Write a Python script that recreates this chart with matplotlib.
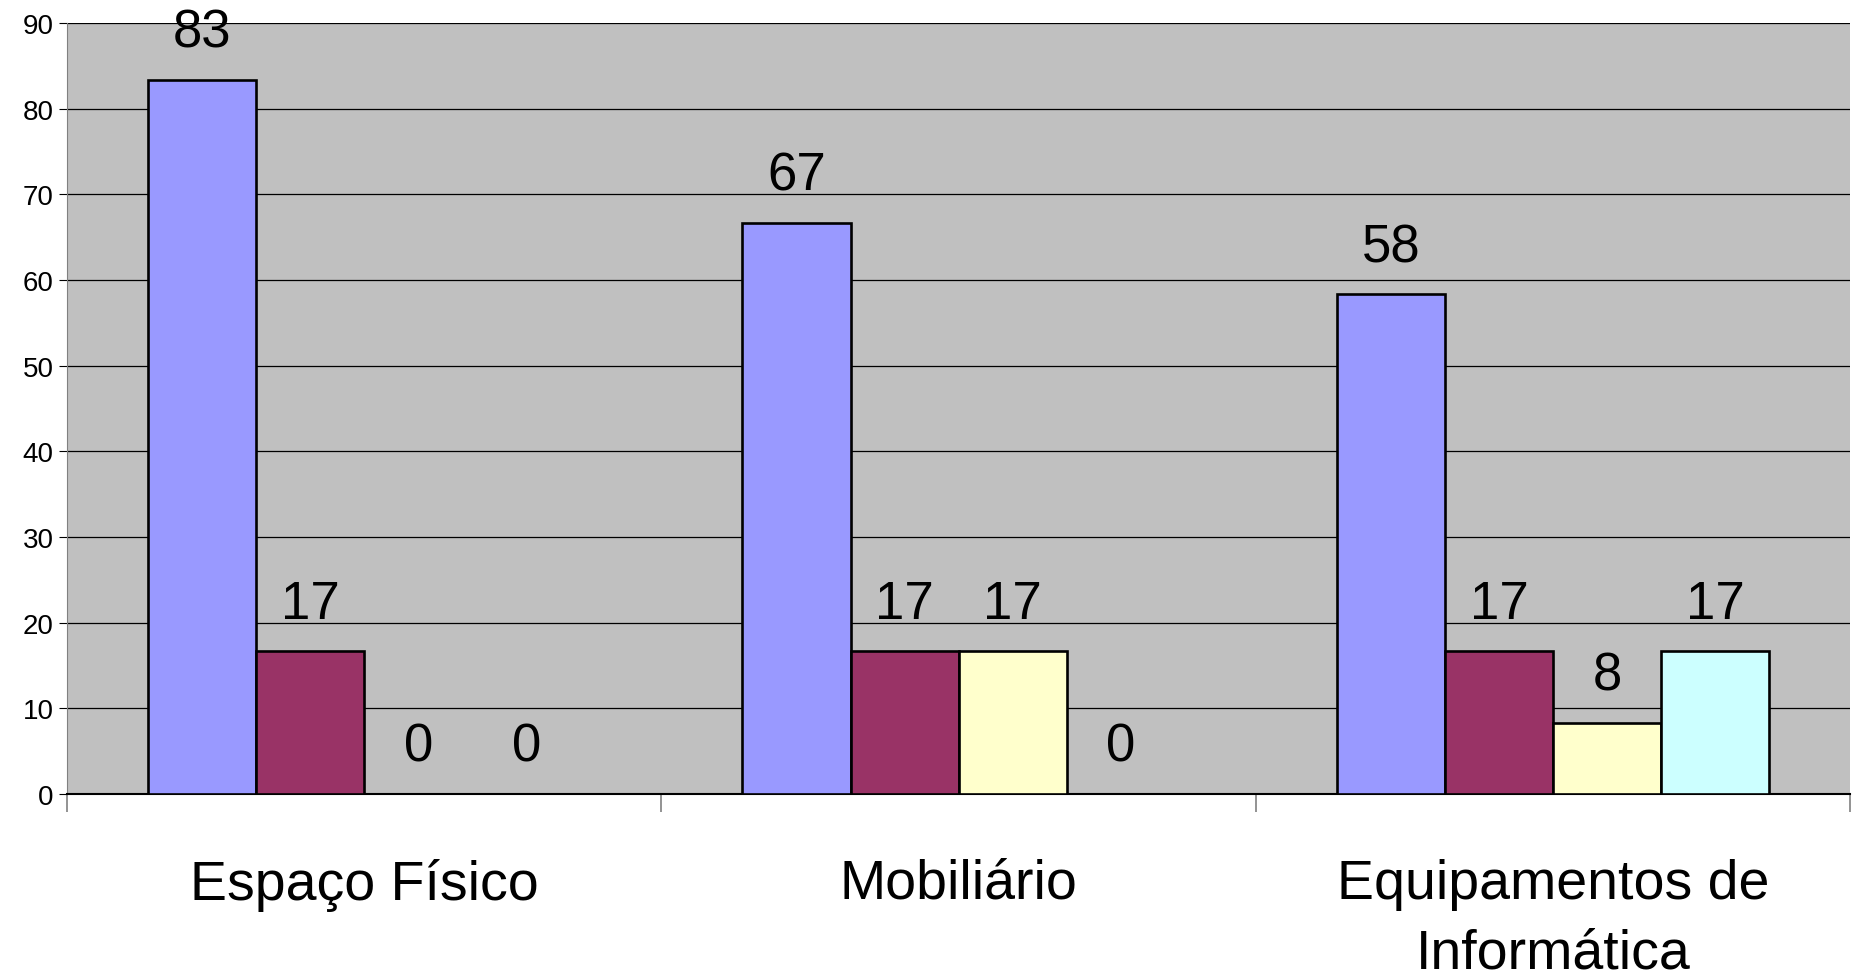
import numpy as np
import matplotlib.pyplot as plt

plt.rcParams['font.family'] = ['Liberation Sans', 'DejaVu Sans']

# Data
categories = ['Espaço Físico', 'Mobiliário', 'Equipamentos de\nInformática']
serie_1 = [83.33, 66.67, 58.33]
serie_2 = [16.67, 16.67, 16.67]
serie_3 = [0, 16.67, 8.33]
serie_4 = [0, 0, 16.67]
series = [serie_1, serie_2, serie_3, serie_4]
colors = ['#9999FF', '#993366', '#FFFFCC', '#CCFFFF']

fig = plt.figure(figsize=(18.52, 9.78), dpi=100)
ax = fig.add_axes([0.0362, 0.1871, 0.9628, 0.7884])
ax.set_facecolor('#C0C0C0')

x = np.arange(len(categories))
width = 1 / 5.5  # excel style, gap width 150%

for i, (vals, col) in enumerate(zip(series, colors)):
    pos = x - 1.5 * width + i * width
    bars = ax.bar(pos, vals, width, color=col, edgecolor='black', linewidth=1.9, zorder=3)
    for b, v in zip(bars, vals):
        ax.annotate(f'{v:.0f}', (b.get_x() + b.get_width() / 2, v),
                    xytext=(0, 16), textcoords='offset points',
                    ha='center', va='bottom', fontsize=38, zorder=4,
                    annotation_clip=False)

ax.set_xlim(-0.5, len(categories) - 0.5)
ax.set_ylim(0, 90)
ax.set_yticks(range(0, 91, 10))
ax.tick_params(axis='y', labelsize=20, length=6, color='black', direction='out')
ax.yaxis.grid(True, color='black', linewidth=0.9, zorder=1)

# category labels centred, ticks at boundaries
ax.set_xticks(x)
ax.set_xticklabels(categories, fontsize=40, linespacing=1.45)
ax.tick_params(axis='x', length=0, pad=46)
ax.set_xticks(np.arange(-0.5, len(categories)), minor=True)
ax.tick_params(axis='x', which='minor', length=13, color='#808080', width=1.2)

for s in ['top', 'right']:
    ax.spines[s].set_visible(False)
ax.spines['left'].set_color('#808080')
ax.spines['bottom'].set_color('black')
ax.spines['bottom'].set_linewidth(1.5)

plt.savefig('out.png', dpi=100)
